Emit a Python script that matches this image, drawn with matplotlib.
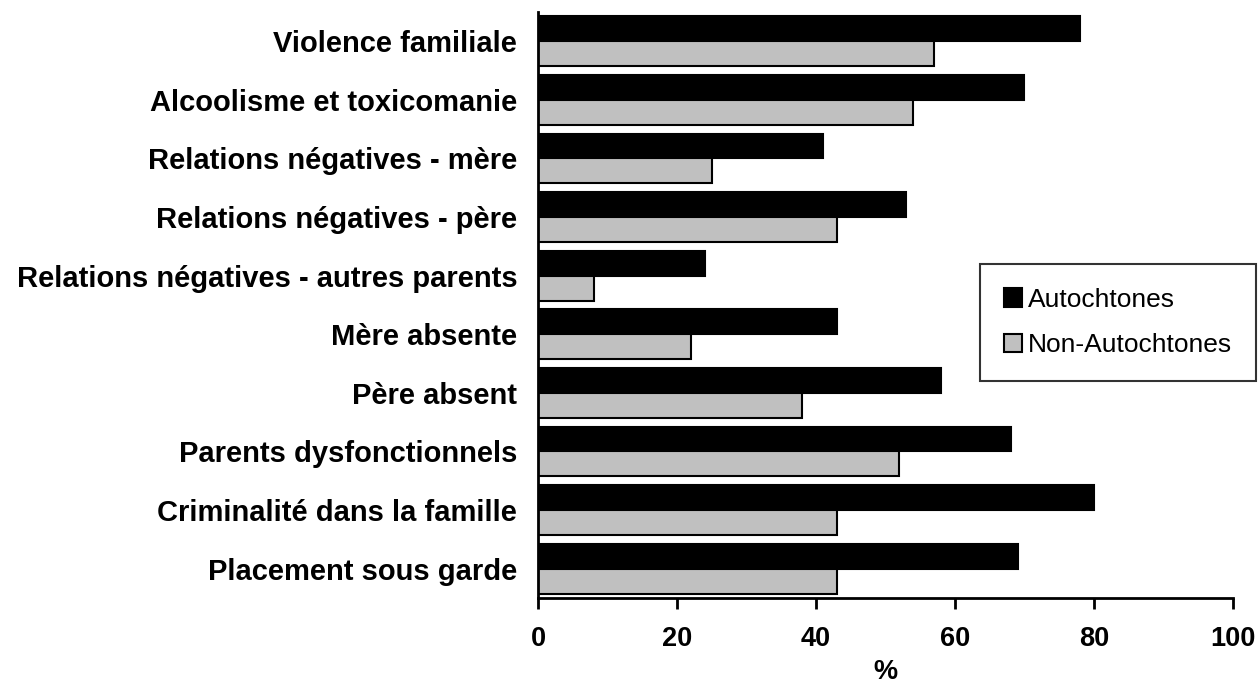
import numpy as np
import matplotlib.pyplot as plt

# categories, top to bottom
categories = [
    "Violence familiale",
    "Alcoolisme et toxicomanie",
    "Relations négatives - mère",
    "Relations négatives - père",
    "Relations négatives - autres parents",
    "Mère absente",
    "Père absent",
    "Parents dysfonctionnels",
    "Criminalité dans la famille",
    "Placement sous garde",
]
autochtones = [78, 70, 41, 53, 24, 43, 58, 68, 80, 69]
non_autochtones = [57, 54, 25, 43, 8, 22, 38, 52, 43, 43]
xticks = [0, 20, 40, 60, 80, 100]

plt.rcParams['font.family'] = ['Liberation Sans', 'DejaVu Sans']

fig = plt.figure(figsize=(12.58, 6.89), dpi=100)
ax = fig.add_axes([0.4277, 0.1321, 0.5524, 0.8505])

y = np.arange(len(categories))
h = 0.425
ax.barh(y - h / 2, autochtones, height=h, color='black', edgecolor='black',
        linewidth=1.5, label='Autochtones')
ax.barh(y + h / 2, non_autochtones, height=h, color='#c0c0c0', edgecolor='black',
        linewidth=1.5, label='Non-Autochtones')

ax.set_xlim(0, 100)
ax.set_ylim(len(categories) - 0.5, -0.5)
ax.set_xticks(xticks)
ax.set_xticklabels([str(t) for t in xticks], fontsize=19.5, fontweight='bold')
ax.set_yticks(y)
ax.set_yticklabels(categories, fontsize=21, fontweight='bold')
ax.tick_params(axis='y', length=0, pad=15)
ax.tick_params(axis='x', length=8, width=2, direction='out', pad=12)
ax.set_xlabel('%', fontsize=19.5, fontweight='bold', labelpad=5)

for side in ['top', 'right']:
    ax.spines[side].set_visible(False)
for side in ['left', 'bottom']:
    ax.spines[side].set_linewidth(2)

leg = fig.legend(loc='upper left', bbox_to_anchor=(980 / 1258, 1 - 264 / 689),
                 fontsize=19, frameon=True, fancybox=False, edgecolor='black',
                 handlelength=0.68, handleheight=0.68, handletextpad=0.23,
                 labelspacing=0.82, borderpad=0.9, borderaxespad=0)
leg.get_frame().set_linewidth(1.5)

fig.savefig('out.png', dpi=100)
